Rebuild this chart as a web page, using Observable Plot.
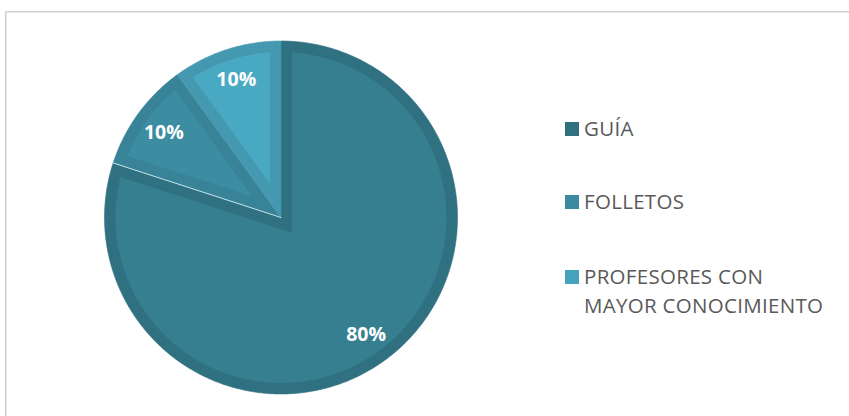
<!DOCTYPE html>
<html>
<head>
<meta charset="utf-8">
<script src="https://cdn.jsdelivr.net/npm/d3@7"></script>
<script src="https://cdn.jsdelivr.net/npm/@observablehq/plot@0.6"></script>
<style>
  html, body { margin: 0; padding: 0; background: #fff; }
  #wrap { position: relative; width: 849px; height: 416px; overflow: hidden; }
  #frame { position: absolute; left: 5px; top: 11px; width: 900px; height: 500px;
           border: 1px solid #cfcfcf; box-shadow: inset 1px 1px 0 #e6e6e6; }
  #chart { position: absolute; left: 0; top: 0; }
  #legend { position: absolute; left: 0; top: 0; }
</style>
</head>
<body>
<div id="wrap">
  <div id="frame"></div>
  <div id="chart"></div>
  <svg id="legend" width="849" height="416"></svg>
</div>
<script>
// ---- data ----
const categories = ["GUÍA", "FOLLETOS", "PROFESORES CON MAYOR CONOCIMIENTO"];
const legendLines = [["GUÍA"], ["FOLLETOS"], ["PROFESORES CON", "MAYOR CONOCIMIENTO"]];
const values = [80, 10, 10];
const valueLabels = ["80%", "10%", "10%"];
const fills = ["#357F91", "#3D8DA2", "#4AA9C2"];
const borders = ["#2F7081", "#388397", "#4499B0"];
const legendColors = ["#30717F", "#3A8BA0", "#45A3BC"];

// ---- layout ----
const W = 849, H = 416;
const cx = 280.5, cy = 217, R = 176.5, borderPx = 11;
const w = borderPx / R;

const total = d3.sum(values);
let acc = 0;
const slices = values.map((v, i) => {
  const a0 = acc / total * 2 * Math.PI;
  acc += v;
  const a1 = acc / total * 2 * Math.PI;
  return {i, cat: categories[i], v, a0, a1, mid: (a0 + a1) / 2};
});

const pt = (r, a) => ({x: r * Math.sin(a), y: -r * Math.cos(a)});
function arcPts(r, a0, a1) {
  const n = Math.max(2, Math.ceil((a1 - a0) / (Math.PI / 360)));
  const out = [];
  for (let k = 0; k <= n; k++) out.push(pt(r, a0 + (a1 - a0) * k / n));
  return out;
}

const outer = [], inner = [];
for (const s of slices) {
  const o = [{x: 0, y: 0}, ...arcPts(1, s.a0, s.a1), {x: 0, y: 0}];
  o.forEach(p => outer.push({...p, key: "o" + s.i, color: borders[s.i]}));
  const th = s.a1 - s.a0;
  const apex = pt(w / Math.sin(th / 2), s.mid);
  const del = Math.asin(w / (1 - w));
  const ip = [apex, ...arcPts(1 - w, s.a0 + del, s.a1 - del), apex];
  ip.forEach(p => inner.push({...p, key: "i" + s.i, color: fills[s.i]}));
}

const seam = [pt(0, slices[0].a1), pt(1, slices[0].a1)];
const labels = slices.map(s => ({...pt(0.82, s.mid), text: valueLabels[s.i]}));

const plot = Plot.plot({
  width: W, height: H,
  margin: 0,
  x: {type: "linear", domain: [-cx / R, (W - cx) / R], range: [0, W], axis: null},
  y: {type: "linear", domain: [-cy / R, (H - cy) / R], range: [0, H], axis: null},
  color: {type: "identity"},
  style: {background: "transparent", overflow: "visible"},
  marks: [
    Plot.line(outer, {x: "x", y: "y", z: "key", fill: "color", stroke: "color", strokeWidth: 0.6, curve: "linear"}),
    Plot.line(inner, {x: "x", y: "y", z: "key", fill: "color", stroke: "none", curve: "linear"}),
    Plot.line(seam, {x: "x", y: "y", stroke: "#d6ecf1", strokeWidth: 1, strokeOpacity: 0.9}),
    Plot.text(labels, {x: "x", y: "y", text: "text", fill: "white", fontSize: 19.5,
      fontWeight: "bold", fontFamily: "Open Sans", textAnchor: "middle", dy: 0})
  ]
});
document.getElementById("chart").appendChild(plot);

// ---- legend ----
const baselines = [[136], [209], [284, 313]];
const lg = d3.select("#legend");
legendLines.forEach((lines, i) => {
  const b0 = baselines[i][0];
  lg.append("rect").attr("x", 565).attr("y", b0 - 14).attr("width", 14).attr("height", 14)
    .attr("fill", legendColors[i]);
  lines.forEach((t, j) => {
    lg.append("text").attr("x", 584).attr("y", baselines[i][j])
      .attr("font-family", "Open Sans").attr("font-size", 20.5)
      .attr("letter-spacing", 0.3)
      .attr("fill", "#595959").text(t);
  });
});
</script>
</body>
</html>
